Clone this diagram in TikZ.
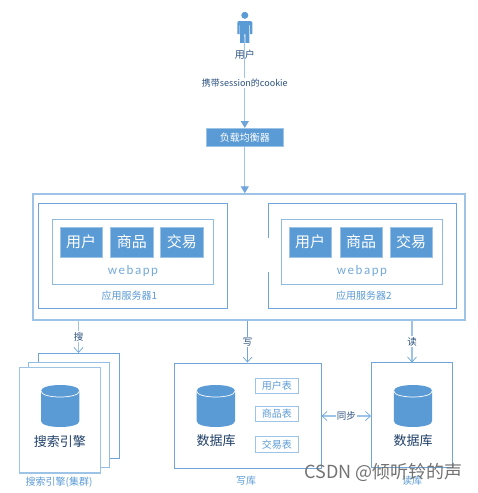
\documentclass[tikz,border=0pt]{standalone}
\usepackage{fontspec}
\setmainfont{Noto Sans CJK SC}
\newfontfamily\latinf[LetterSpace=12]{Carlito}
\usetikzlibrary{arrows.meta}
\definecolor{bluefill}{HTML}{5B9BD5}
\definecolor{lineblue}{HTML}{6FA5DA}
\definecolor{paleblue}{HTML}{9DC3E6}
\definecolor{darkt}{HTML}{1F3F68}
\newcommand{\fs}[1]{\fontsize{#1}{#1}\selectfont}
\newcommand{\dbdrum}[2]{%
  \fill[bluefill] (#1-19.2,#2-36) .. controls (#1-19.2,#2-44) and (#1+19.2,#2-44) .. (#1+19.2,#2-36)
    -- (#1+19.2,#2-6) .. controls (#1+19.2,#2+2) and (#1-19.2,#2+2) .. (#1-19.2,#2-6) -- cycle;
  \draw[white,line width=.7pt] (#1-19.2,#2-36) .. controls (#1-19.2,#2-28) and (#1+19.2,#2-28) .. (#1+19.2,#2-36);
}
\tikzset{
  x=1pt,y=-1pt,
  frame/.style={draw=lineblue,line width=1pt,fill=white,inner sep=0pt},
  outerframe/.style={draw=paleblue,line width=1.5pt,inner sep=0pt},
  block/.style={fill=bluefill,draw=paleblue,line width=.4pt,text=white,inner sep=0pt,minimum width=42.5,minimum height=30,font=\fs{15}},
  tablebox/.style={draw=paleblue,line width=1pt,fill=white,text=bluefill,inner sep=0pt,minimum width=43.5,minimum height=15.5,font=\fs{10}},
  caplabel/.style={text=bluefill,inner sep=0pt,font=\fs{10}},
  blabel/.style={text=darkt,inner sep=0pt,font=\fs{13}},
  conn/.style={draw=paleblue,line width=1.2pt,-{Straight Barb[length=5pt,width=9pt,color=lineblue,line width=.7pt]}},
  solidconn/.style={draw=paleblue,line width=1.2pt,-{Triangle[length=7pt,width=8pt,color=lineblue]}},
  edgelab/.style={fill=white,text=darkt!80!bluefill,inner sep=1pt,font=\fs{9.5}},
}
\begin{document}
\begin{tikzpicture}
\useasboundingbox (0,0) rectangle (478,493);
% user
\fill[bluefill] (244.8,15.3) circle (3.5);
\fill[bluefill] (238.5,21) -- (251,21) -- (252.3,22.5) -- (252.3,34) -- (250,34) -- (250,25) -- (249.4,25) -- (249.4,42.8) -- (245.3,42.8) -- (245.3,34) -- (244.3,34) -- (244.3,42.8) -- (240.2,42.8) -- (240.2,25) -- (239.6,25) -- (239.6,34) -- (237.3,34) -- (237.3,22.5) -- cycle;
\coordinate (userfoot) at (244.8,37);
\node[frame,draw=paleblue,fill=bluefill,text=white,minimum width=76.5,minimum height=18,font=\fs{10}] (lb) at (244.8,137.5) {负载均衡器};
% outer
\node[outerframe,minimum width=432,minimum height=126] (outer) at (249,257) {};
% servers
\node[frame,minimum width=189,minimum height=105] (s1) at (132.5,255.5) {};
\node[frame,draw=paleblue!70!lineblue,minimum width=160.5,minimum height=65.5] (w1) at (132.8,252.2) {};
\node[block] (a1) at (81,242) {用户};
\node[block] (b1) at (131.8,242) {商品};
\node[block] (c1) at (181.8,242) {交易};
\node[inner sep=0pt,text=bluefill!85,font=\fs{13}\latinf] (wa1) at (133,271.5) {webapp};
\node[caplabel] (sl1) at (129.5,295.5) {应用服务器1};
\node[frame,minimum width=188,minimum height=105] (s2) at (362,255.5) {};
\node[frame,draw=paleblue!70!lineblue,minimum width=160.5,minimum height=65.5] (w2) at (362,252.2) {};
\node[block] (a2) at (310,242) {用户};
\node[block] (b2) at (361,242) {商品};
\node[block] (c2) at (411,242) {交易};
\node[inner sep=0pt,text=bluefill!85,font=\fs{13}\latinf] (wa2) at (362,271.5) {webapp};
\node[caplabel] (sl2) at (364,295.5) {应用服务器2};
\fill[white] (266.5,238) rectangle (269.5,272);
% search stack
\node[frame,minimum width=81,minimum height=105.5] (back) at (78.5,406.2) {};
\node[frame,draw=paleblue!80!lineblue,minimum width=81.5,minimum height=105] (mid) at (69.2,414.5) {};
\node[frame,draw=paleblue,line width=1.2pt,minimum width=81,minimum height=105.5] (front) at (60,420.2) {};
\dbdrum{60.2}{427}
\node[blabel] (se) at (60,442) {搜索引擎};
\node[caplabel] (sec) at (59,482) {搜索引擎(集群)};
% write db
\node[frame,minimum width=147,minimum height=105] (wdb) at (247.5,415.5) {};
\dbdrum{215.8}{427}
\node[blabel] (wl) at (216,441) {数据库};
\node[tablebox] (t1) at (276.8,385.8) {用户表};
\node[tablebox] (t2) at (276.8,414) {商品表};
\node[tablebox] (t3) at (276.8,444.5) {交易表};
\node[caplabel] (wc) at (246,481) {写库};
% read db
\node[frame,minimum width=81,minimum height=104.5] (rdb) at (412,415.2) {};
\dbdrum{413}{427}
\node[blabel] (rl) at (413,441) {数据库};
\node[caplabel] (rc) at (412,481) {读库};
% connectors
\draw[solidconn] (userfoot) -- (lb.north);
\node[inner sep=0pt,text=darkt!80!bluefill,font=\fs{10}] (user) at (244.8,55) {用户};
\node[edgelab,font=\fs{9}] (ck) at (244.8,83) {携带session的cookie};
\draw[solidconn] (lb.south) -- (outer.north -| lb);
\draw[conn] (outer.south -| back.north) -- node[edgelab] {搜} (back.north);
\draw[conn,draw=lineblue] (outer.south -| wdb.north) -- node[edgelab] {写} (wdb.north);
\draw[conn] (outer.south -| rdb.north) -- node[edgelab] {读} (rdb.north);
\draw[conn,{Straight Barb[length=5pt,width=9pt,color=lineblue,line width=.7pt]}-{Straight Barb[length=5pt,width=9pt,color=lineblue,line width=.7pt]}] (wdb.east |- 0,416) -- node[edgelab] {同步} (rdb.west |- 0,416);
% watermark
\node[inner sep=0pt,text=black!55,font=\fs{18},anchor=east] (wm) at (463,472) {CSDN @倾听铃的声};
\end{tikzpicture}
\end{document}
